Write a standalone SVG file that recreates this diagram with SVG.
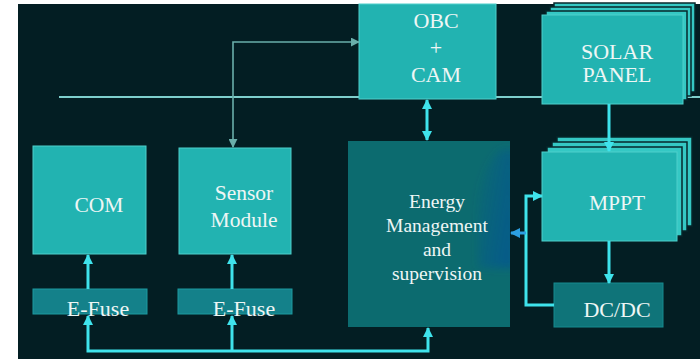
<svg xmlns="http://www.w3.org/2000/svg" width="700" height="359" viewBox="0 0 700 359">
<defs>
<style>
.bx{fill:#22b3b1;stroke:#4fcfcb;stroke-width:1}
.ly{fill:#35c8c4;stroke:#06272b;stroke-width:1.5}
.dk{fill:#0c6b6f}
.fu{fill:#14818a;stroke:#1d9aa0;stroke-width:1}
.dc{fill:#0f7479;stroke:#168a8f;stroke-width:1}
.t{font-family:'Liberation Serif',serif;fill:#eef6f5;text-anchor:middle}
.c{fill:none;stroke:#3fe3ec;stroke-width:3}
.thin{fill:none;stroke:#6aaeaa;stroke-width:1.6}
</style>
<marker id="a" markerUnits="userSpaceOnUse" viewBox="0 0 10 10" refX="9" refY="5" markerWidth="10" markerHeight="10" orient="auto-start-reverse"><path d="M0,0 L10,5 L0,10 z" fill="#3fe3ec"/></marker>
<marker id="ab" markerUnits="userSpaceOnUse" viewBox="0 0 10 10" refX="9" refY="5" markerWidth="10" markerHeight="10" orient="auto"><path d="M0,0 L10,5 L0,10 z" fill="#2c9fe2"/></marker>
<marker id="g" markerUnits="userSpaceOnUse" viewBox="0 0 10 10" refX="9" refY="5" markerWidth="9" markerHeight="9" orient="auto-start-reverse"><path d="M0,0 L10,5 L0,10 z" fill="#6aaeaa"/></marker>
<linearGradient id="blue" x1="0" y1="0" x2="1" y2="0.5">
<stop offset="0" stop-color="#0a4f9e" stop-opacity="0"/>
<stop offset="0.6" stop-color="#0a4f9e" stop-opacity="0.35"/>
<stop offset="1" stop-color="#0a4f9e" stop-opacity="0.55"/>
</linearGradient>
<filter id="blur" x="-0.5" y="-0.5" width="2" height="2"><feGaussianBlur stdDeviation="4"/></filter>
</defs>
<rect x="0" y="0" width="700" height="359" fill="#ffffff"/>
<rect x="18" y="4" width="682" height="355" fill="#031e23"/>
<line x1="59" y1="97" x2="700" y2="97" stroke="#7ecfcc" stroke-width="2"/>

<g id="obc" font-family="Liberation Serif, serif">
<rect class="bx" x="359" y="4" width="137" height="95"/>
<text class="t" x="436" y="28" font-size="22">OBC</text>
<text class="t" x="436" y="55" font-size="22">+</text>
<text class="t" x="436" y="82" font-size="22">CAM</text>
</g>

<g id="solar" font-family="Liberation Serif, serif">
<rect class="ly" x="554" y="3" width="141" height="89"/>
<rect class="ly" x="550" y="7" width="141" height="89"/>
<rect class="ly" x="546" y="11" width="141" height="89"/>
<rect class="bx" x="542" y="15" width="141" height="89"/>
<text class="t" x="617" y="59" font-size="22">SOLAR</text>
<text class="t" x="617" y="82" font-size="22">PANEL</text>
</g>

<g id="mppt" font-family="Liberation Serif, serif">
<rect class="ly" x="557" y="137" width="135" height="89"/>
<rect class="ly" x="552" y="142" width="135" height="89"/>
<rect class="ly" x="547" y="147" width="135" height="89"/>
<rect class="bx" x="542" y="152" width="135" height="89"/>
<text class="t" x="617" y="210" font-size="21.5">MPPT</text>
</g>

<g id="dcdc" font-family="Liberation Serif, serif">
<rect class="dc" x="554" y="283" width="109" height="44"/>
<text class="t" x="617" y="317" font-size="22">DC/DC</text>
</g>

<g id="energy" font-family="Liberation Serif, serif">
<rect class="dk" x="348" y="141" width="162" height="186"/>
<g clip-path="url(#ec)">
<clipPath id="ec"><rect x="348" y="141" width="162" height="186"/></clipPath>
<path d="M500,150 C470,180 478,220 478,268 L515,268 L515,150 Z" fill="url(#blue)" filter="url(#blur)"/>
</g>
<text class="t" x="437" y="208" font-size="19.5">Energy</text>
<text class="t" x="437" y="232" font-size="19.5">Management</text>
<text class="t" x="437" y="256" font-size="19.5">and</text>
<text class="t" x="437" y="280" font-size="19.5">supervision</text>
</g>

<g id="com" font-family="Liberation Serif, serif">
<rect class="bx" x="33" y="146" width="113" height="108"/>
<text class="t" x="99" y="212" font-size="21.5">COM</text>
</g>

<g id="sensor" font-family="Liberation Serif, serif">
<rect class="bx" x="179" y="148" width="112" height="106"/>
<text class="t" x="244" y="200" font-size="21.5">Sensor</text>
<text class="t" x="244" y="227" font-size="21.5">Module</text>
</g>

<g id="efuse1" font-family="Liberation Serif, serif">
<rect class="fu" x="33" y="289" width="114" height="25"/>
<text class="t" x="98" y="316" font-size="22">E-Fuse</text>
</g>

<g id="efuse2" font-family="Liberation Serif, serif">
<rect class="fu" x="178" y="289" width="114" height="25"/>
<text class="t" x="244" y="316" font-size="22">E-Fuse</text>
</g>

<g id="connectors">
<path class="thin" d="M233,147 V42 H359" marker-start="url(#g)" marker-end="url(#g)"/>
<path class="c" d="M427,100 V140" marker-start="url(#a)" marker-end="url(#a)"/>
<path class="c" d="M609,104 V151" marker-end="url(#a)"/>
<path class="c" d="M609,241 V283" marker-end="url(#a)"/>
<path class="c" d="M88,289 V255" marker-end="url(#a)"/>
<path class="c" d="M232,289 V255" marker-end="url(#a)"/>
<path class="c" d="M88,316 V351 H428 V328" marker-start="url(#a)" marker-end="url(#a)"/>
<path class="c" d="M232,351 V316" marker-end="url(#a)"/>
<path class="c" d="M554,305 H526 V196 H542" marker-end="url(#a)"/>
<path d="M526,233 H511" fill="none" stroke="#2c9fe2" stroke-width="3" marker-end="url(#ab)"/>
</g>
</svg>
